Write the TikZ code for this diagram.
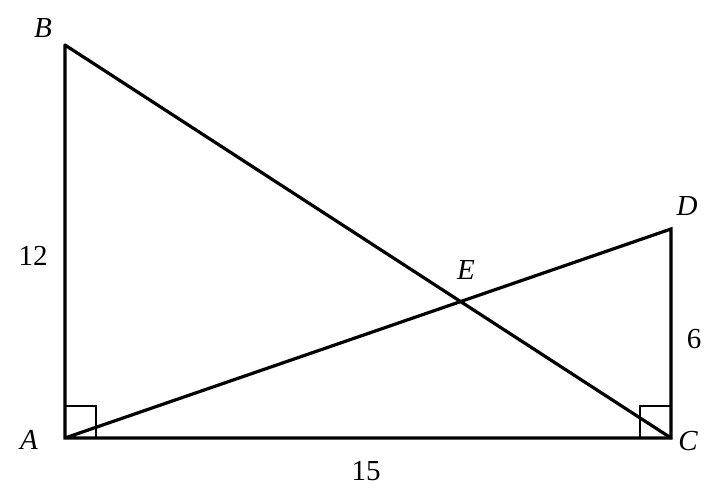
\documentclass[tikz,border=0pt]{standalone}
\usepackage{fontspec}
\setmainfont{Liberation Serif}
\begin{document}
\begin{tikzpicture}[x=1pt,y=-1pt,
  seg/.style={line width=3.2pt,line cap=round,line join=miter},
  sq/.style={line width=2.6pt},
  lbl/.style={font=\fontsize{29}{29}\selectfont\itshape,inner sep=0pt},
  num/.style={font=\fontsize{29}{29}\selectfont,inner sep=0pt}]
\useasboundingbox (0,0) rectangle (722,495);
\coordinate (A) at (65,438);
\coordinate (B) at (65,45);
\coordinate (C) at (671,438);
\coordinate (D) at (671,229);
\coordinate (E) at (460.5,302);
\draw[sq] (65,406) -- (96,406) -- (96,438);
\draw[sq] (640,438) -- (640,406) -- (671,406);
\draw[seg] (B) -- (A) -- (C) -- (D) -- (A);
\draw[seg] (B) -- (C);
\node[lbl] (lB) at (43,28) {B};
\node[lbl] (lA) at (29,440) {A};
\node[lbl] (lC) at (688,441) {C};
\node[lbl] (lD) at (687,206) {D};
\node[lbl] (lE) at (466,270) {E};
\node[num] (l12) at (33,256) {12};
\node[num] (l6) at (694,339) {6};
\node[num] (l15) at (366,471) {15};
\end{tikzpicture}
\end{document}
